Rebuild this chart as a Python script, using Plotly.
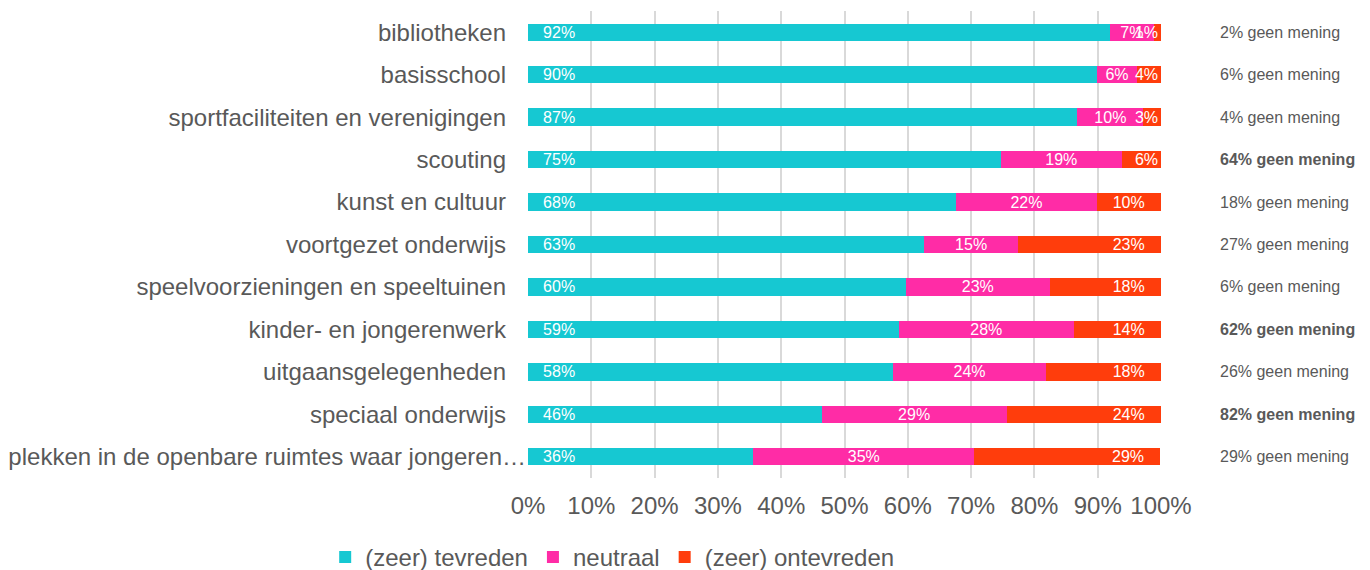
import plotly.graph_objects as go

categories = [
    "bibliotheken",
    "basisschool",
    "sportfaciliteiten en verenigingen",
    "scouting",
    "kunst en cultuur",
    "voortgezet onderwijs",
    "speelvoorzieningen en speeltuinen",
    "kinder- en jongerenwerk",
    "uitgaansgelegenheden",
    "speciaal onderwijs",
    "plekken in de openbare ruimtes waar jongeren\u2026",
]
tevreden = [91.9, 89.9, 86.8, 74.7, 67.6, 62.6, 59.7, 58.6, 57.7, 46.4, 35.6]
neutraal = [7.0, 6.3, 10.4, 19.1, 22.3, 14.8, 22.7, 27.6, 24.1, 29.2, 34.9]
ontevreden = [1.1, 3.8, 2.8, 6.2, 10.1, 22.6, 17.6, 13.8, 18.2, 24.4, 29.4]
geen_mening = [2, 6, 4, 64, 18, 27, 6, 62, 26, 82, 29]
series_names = ["(zeer) tevreden", "neutraal", "(zeer) ontevreden"]
colors = ["#16c8d2", "#ff2ca6", "#ff3d0c"]
tick_vals = [0, 10, 20, 30, 40, 50, 60, 70, 80, 90, 100]
tick_text = [f"{v}%" for v in tick_vals]

GREY = "#595959"
FONT = "Liberation Sans, Arial, sans-serif"
NB = "\u00a0"
TS = "\u2009"

# label texts (rounded values); end labels get a little inner padding when room allows
lab_tev = [NB * 2 + TS + f"{round(v)}%" for v in tevreden]
lab_neu = [f"{round(v)}%" for v in neutraal]
lab_ont = [(NB * 4 if v < 2 else "") + f"{round(v)}%" + (NB * 3 if v > 8 else "")
           for v in ontevreden]

# category tick labels: the long truncated one sits closer to the axis
y_ticktext = [c if c.endswith("\u2026") else c + NB * 3 for c in categories]

common_text = dict(textposition="inside", constraintext="none", textangle=0,
                   cliponaxis=True,
                   textfont=dict(color="white", size=16, family=FONT))

fig = go.Figure()
fig.add_trace(go.Bar(
    y=categories, x=tevreden, orientation="h", name=series_names[0],
    marker=dict(color=colors[0], line=dict(width=0)),
    text=lab_tev, texttemplate="%{text}", insidetextanchor="start", **common_text,
))
fig.add_trace(go.Bar(
    y=categories, x=neutraal, orientation="h", name=series_names[1],
    marker=dict(color=colors[1], line=dict(width=0)),
    text=lab_neu, texttemplate="%{text}", insidetextanchor="middle", **common_text,
))
fig.add_trace(go.Bar(
    y=categories, x=ontevreden, orientation="h", name=series_names[2],
    marker=dict(color=colors[2], line=dict(width=0)),
    text=lab_ont, texttemplate="%{text}", insidetextanchor="end", **common_text,
))

for cat, g in zip(categories, geen_mening):
    txt = f"{g}% geen mening"
    if g > 50:
        txt = f"<b>{txt}</b>"
    fig.add_annotation(
        x=1.090, xref="paper", y=cat, yref="y", text=txt, showarrow=False,
        xanchor="left", yanchor="middle",
        font=dict(size=16, color=GREY, family=FONT),
    )

# the page body adds an 8px margin, so the figure is sized/placed to compensate
fig.update_layout(
    barmode="stack",
    bargap=0.59,
    width=1362, height=562,
    margin=dict(l=520, r=209, t=3, b=92, autoexpand=False),
    paper_bgcolor="white", plot_bgcolor="white",
    font=dict(family=FONT, color=GREY, size=24),
    showlegend=True,
    legend=dict(
        orientation="h", x=0.133, xanchor="center", y=-0.17, yanchor="middle",
        font=dict(size=24, color=GREY, family=FONT),
        traceorder="normal", itemwidth=30,
    ),
    xaxis=dict(
        range=[0, 100], tickvals=tick_vals, ticktext=tick_text,
        showgrid=True, gridcolor="#d9d9d9", gridwidth=1.5,
        zeroline=False, showline=False, ticks="", automargin=False,
        tickfont=dict(size=24, color=GREY, family=FONT),
        ticklabelstandoff=11,
    ),
    yaxis=dict(
        categoryorder="array", categoryarray=categories, autorange="reversed",
        tickvals=categories, ticktext=y_ticktext,
        showgrid=False, zeroline=False, showline=False, ticks="", automargin=False,
        tickfont=dict(size=24, color=GREY, family=FONT),
        ticklabelstandoff=1,
    ),
)

fig.write_html("out.html")
